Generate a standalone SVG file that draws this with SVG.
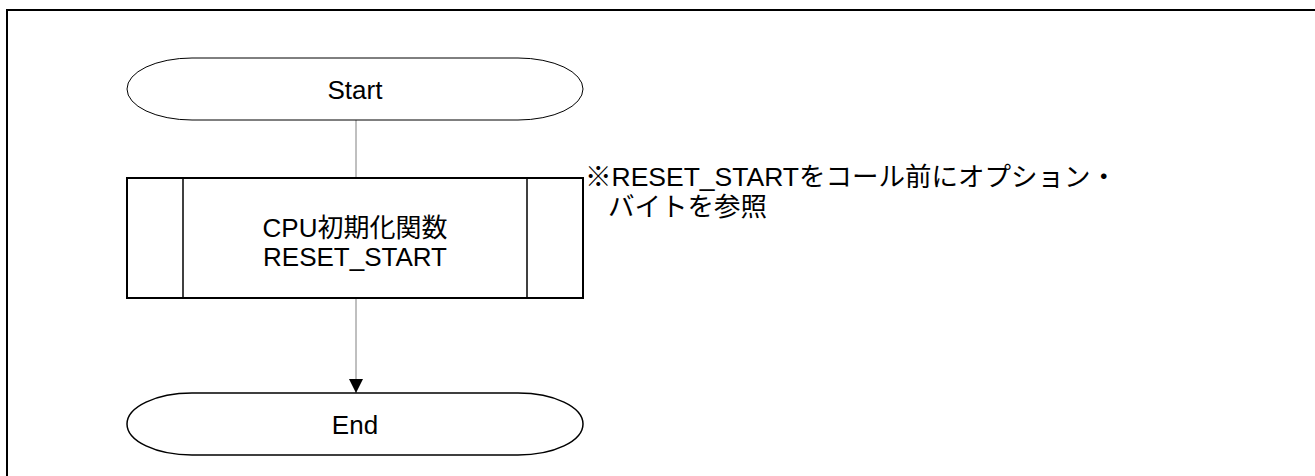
<svg xmlns="http://www.w3.org/2000/svg" width="1315" height="476" viewBox="0 0 1315 476">
<style>
.t{font-family:"Liberation Sans","Noto Sans CJK JP",Arial,sans-serif;font-size:26px;fill:#000}
.n{font-size:26.5px}
.c{text-anchor:middle}
.term{fill:#fff;stroke:#000}
.conn{stroke:#808080;stroke-width:1;fill:none}
</style>
<defs>
<marker id="arr" markerWidth="14" markerHeight="14" refX="14" refY="7" orient="auto" markerUnits="userSpaceOnUse" viewBox="0 0 14 14">
<path d="M0,0 L14,7 L0,14 z" fill="#000"/>
</marker>
</defs>
<rect width="1315" height="476" fill="#fff"/>
<path d="M7,476 V10 H1315" fill="none" stroke="#000" stroke-width="2"/>
<g id="connectors">
<line class="conn" x1="356" y1="120" x2="356" y2="178"/>
<line class="conn" x1="356" y1="298" x2="356" y2="393" marker-end="url(#arr)"/>
</g>
<g id="start">
<path class="term" stroke-width="1" d="M192,58 H518 A65,31 0 0 1 518,120 H192 A65,31 0 0 1 192,58 Z"/>
<text class="t c" x="355" y="99">Start</text>
</g>
<g id="cpu_init">
<rect x="127" y="178" width="456" height="120" fill="#fff" stroke="#000" stroke-width="2"/>
<line x1="183" y1="178" x2="183" y2="298" stroke="#000" stroke-width="1.5"/>
<line x1="527" y1="178" x2="527" y2="298" stroke="#000" stroke-width="1.5"/>
<text class="t c" x="355" y="237">CPU初期化関数</text>
<text class="t c" x="355" y="266">RESET_START</text>
</g>
<g id="end">
<path class="term" stroke-width="1.5" d="M192,393 H518 A65,31 0 0 1 518,455 H192 A65,31 0 0 1 192,393 Z"/>
<text class="t c" x="355" y="434">End</text>
</g>
<g id="note">
<text class="t n" x="585" y="186">※RESET_STARTをコール前にオプション・</text>
<text class="t n" x="608" y="216">バイトを参照</text>
</g>
</svg>
